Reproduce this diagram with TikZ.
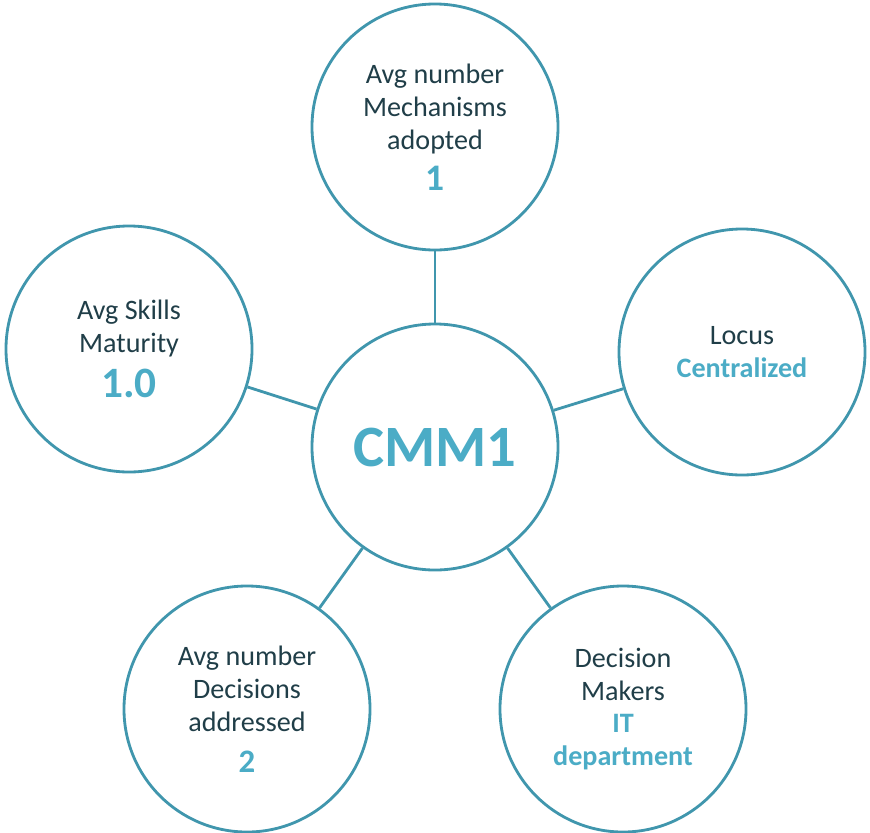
\documentclass[tikz,border=0pt]{standalone}
\usepackage{fontspec}
\setmainfont{Carlito}
\usepackage{tikz}
\definecolor{ringblue}{RGB}{64,150,173}
\definecolor{inkdark}{RGB}{32,62,72}
\definecolor{accent}{RGB}{75,172,198}
\newcommand{\val}[2]{{\fontsize{#1}{#1}\selectfont\bfseries\color{accent}#2}}

\begin{document}
\begin{tikzpicture}[x=0.03cm,y=-0.03cm,
  bubble/.style={circle,draw=ringblue,line width=2.4pt,fill=white,
    minimum size=7.38cm,inner sep=0pt,align=center,text=inkdark,
    font=\fontsize{24}{28}\selectfont},
  link/.style={draw=ringblue,line width=2.4pt}]
  \useasboundingbox (0,0) rectangle (870,832);
  \node[bubble] (cmm) at (435,447) {\val{50}{CMM1}};
  \node[bubble] (mech) at (435,127) {Avg number\\Mechanisms\\adopted\\[7pt]\val{32}{1}};
  \node[bubble] (skill) at (129,349) {Avg Skills\\Maturity\\[10pt]\val{37}{1.0}};
  \node[bubble] (locus) at (742,352) {Locus\\\val{24}{Centralized}};
  \node[bubble] (dec) at (247,709) {Avg number\\Decisions\\addressed\\[7pt]\val{28}{2}};
  \node[bubble] (maker) at (623,709) {Decision\\Makers\\\val{24}{IT}\\\val{24}{department}};
  \foreach \n in {mech,skill,locus,dec,maker}
    \path[link] (cmm) -- (\n);
\end{tikzpicture}
\end{document}
